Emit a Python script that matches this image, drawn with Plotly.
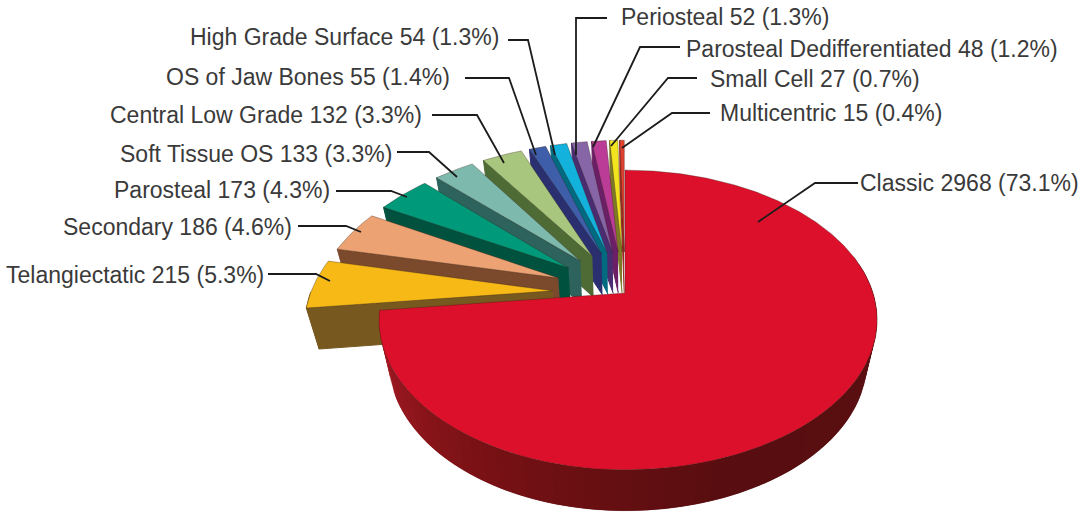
import numpy as np
import plotly.graph_objects as go

# ---- data ----
categories = ["Classic", "Telangiectatic", "Secondary", "Parosteal", "Soft Tissue OS",
              "Central Low Grade", "OS of Jaw Bones", "High Grade Surface", "Periosteal",
              "Parosteal Dedifferentiated", "Small Cell", "Multicentric"]
counts = [2968, 215, 186, 173, 133, 132, 55, 54, 52, 48, 27, 15]
percents = ["73.1", "5.3", "4.6", "4.3", "3.3", "3.3", "1.4", "1.3", "1.3", "1.2", "0.7", "0.4"]

# ---- styles ----
top_colors = ["#dc102a", "#f7b916", "#eca273", "#009a7a", "#7db9ac", "#a9c67f",
              "#3f5eaa", "#12b2dc", "#8766a8", "#bb3c96", "#f2e51f", "#e0402f"]
side_colors = ["#7a1015", "#77591f", "#7b4a2c", "#00523f", "#2d635c", "#4f6b35",
               "#2a2f70", "#006a80", "#4a2c70", "#6c1f66", "#7d7a25", "#9a2a20"]
pulls = [0.0] + [0.30] * 11
CX, CY, RX_RIGHT, RX_LEFT, RY, K = 625.0, 293.0, 248.0, 242.0, 145.0, 0.18
DEPTH, SHRINK = 41.0, 0.96

label_x = [858, 266, 294, 332, 394, 424, 452, 501, 619, 684, 708, 718]
label_y = [183, 275, 227, 190, 154, 115, 77, 37, 17, 49, 79, 113]
label_anchor = ["left", "right", "right", "right", "right", "right", "right", "right",
                "left", "left", "left", "left"]
leaders = [
    [(858, 183), (815, 183), (758, 222)],
    [(268, 274), (316, 274), (330, 281)],
    [(298, 226), (346, 226), (361, 232)],
    [(336, 191), (391, 191), (407, 197)],
    [(397, 152), (429, 152), (457, 177)],
    [(432, 115), (477, 115), (504, 163)],
    [(465, 78), (509, 78), (536, 155)],
    [(508, 40), (528, 40), (555, 155)],
    [(607, 18), (576, 18), (576, 155)],
    [(680, 47), (640, 47), (593, 147)],
    [(697, 78), (668, 78), (611, 146)],
    [(710, 113), (672, 113), (622, 148)],
]


def project(u, v, low=False):
    u, v = np.asarray(u, float), np.asarray(v, float)
    s = 1.0 / (1.0 - K * v)
    x = CX + np.where(u < 0, RX_LEFT, RX_RIGHT) * u * s
    y = CY + RY * v * s
    if low:
        x = CX + (x - CX) * SHRINK
        y = y + DEPTH
    return x, y


def poly(fig, x, y, color, line=None, width=1.0):
    fig.add_trace(go.Scatter(x=list(x), y=list(y), mode="lines", fill="toself",
                             fillcolor=color, line=dict(color=line or color, width=width),
                             hoverinfo="skip", showlegend=False))


def mix(a, b, t):
    return "rgb(%d,%d,%d)" % tuple(a[i] + (b[i] - a[i]) * t for i in range(3))


fig = go.Figure()
total = sum(counts)
edges = np.concatenate([[0.0], np.cumsum(counts) / total * 2 * np.pi])
EDGE = "rgba(50,30,20,0.55)"

# painter's order: back slices first, Classic last
for i in range(len(counts) - 1, -1, -1):
    a0, a1 = edges[i], edges[i + 1]
    mid = (a0 + a1) / 2
    du, dv = pulls[i] * np.sin(mid), -pulls[i] * np.cos(mid)
    t = np.linspace(a0, a1, max(4, int((a1 - a0) * 90)))
    u, v = du + np.sin(t), dv - np.cos(t)

    if i == 0:
        # rim of the big slice, shaded left to right, each band overlapping the next
        tw = np.linspace(np.radians(75), a1, 61)
        stops = [(0.0, (92, 16, 18)), (0.45, (88, 14, 16)), (0.72, (122, 18, 22)), (1.0, (172, 28, 38))]
        for j in range(len(tw) - 1):
            f = (tw[j] - tw[0]) / (tw[-1] - tw[0])
            for (f0, c0), (f1, c1) in zip(stops, stops[1:]):
                if f0 <= f <= f1:
                    col = mix(c0, c1, (f - f0) / (f1 - f0))
                    break
            band = np.linspace(tw[j], tw[min(j + 2, len(tw) - 1)], 5)
            uu, vv = np.sin(band), -np.cos(band)
            xt, yt = project(uu, vv)
            xb, yb = project(uu, vv, low=True)
            poly(fig, np.r_[xt, xb[::-1]], np.r_[yt, yb[::-1]], col, width=0.1)
    else:
        # cut face on the viewer's side
        uu, vv = np.array([du, u[0]]), np.array([dv, v[0]])
        xt, yt = project(uu, vv)
        xb, yb = project(uu, vv, low=True)
        poly(fig, np.r_[xt, xb[::-1]], np.r_[yt, yb[::-1]], side_colors[i])
        # outer rim where it faces the viewer
        front = -np.cos(t) > 0
        if front.sum() >= 2:
            xt, yt = project(u[front], v[front])
            xb, yb = project(u[front], v[front], low=True)
            poly(fig, np.r_[xt, xb[::-1]], np.r_[yt, yb[::-1]], side_colors[i])

    x, y = project(np.r_[du, u, du], np.r_[dv, v, dv])
    poly(fig, x, y, top_colors[i], line=EDGE, width=0.6)

# leader lines and labels
for pts in leaders:
    fig.add_trace(go.Scatter(x=[p[0] for p in pts], y=[p[1] for p in pts], mode="lines",
                             line=dict(color="#1c1c1c", width=1.8), hoverinfo="skip",
                             showlegend=False))

for name, n, pct, lx, ly, anc in zip(categories, counts, percents, label_x, label_y, label_anchor):
    fig.add_annotation(x=lx, y=ly, text=f"{name} {n} ({pct}%)", showarrow=False,
                       xanchor=anc, yanchor="middle",
                       font=dict(family="Liberation Sans", size=23, color="#3a3a3a"))

fig.update_xaxes(range=[0, 1089], visible=False, fixedrange=True)
fig.update_yaxes(range=[514, 0], visible=False, fixedrange=True)
fig.update_layout(width=1089, height=514, margin=dict(l=0, r=0, t=0, b=0),
                  paper_bgcolor="white", plot_bgcolor="white", showlegend=False)
fig.write_html("out.html", config={"displayModeBar": False},
               post_script="document.body.style.margin='0';")
